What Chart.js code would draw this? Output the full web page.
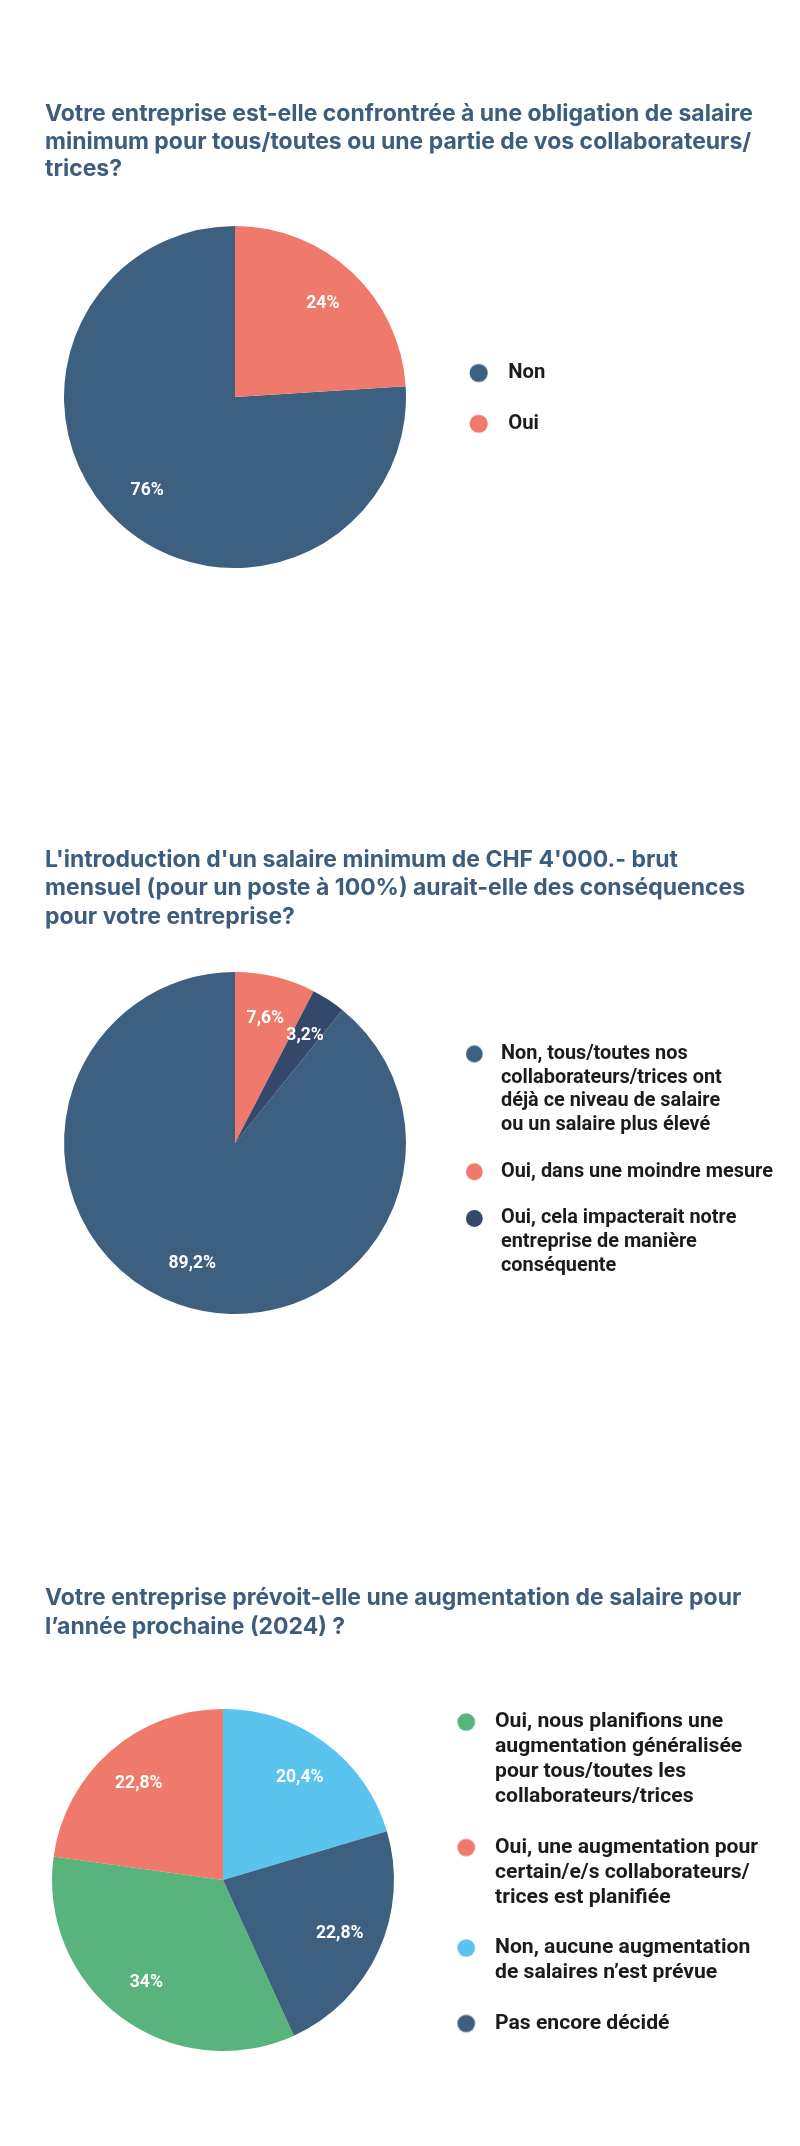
<!DOCTYPE html>
<html>
<head>
<meta charset="utf-8">
<script src="https://cdn.jsdelivr.net/npm/chart.js@4.4.1/dist/chart.umd.min.js"></script>
<style>
  html, body { margin: 0; padding: 0; background: #ffffff; }
  body { width: 800px; height: 2146px; position: relative; overflow: hidden; }
  canvas { position: absolute; left: 0; }
</style>
</head>
<body>
<canvas id="c1" width="800" height="640" style="top:0px"></canvas>
<canvas id="c2" width="800" height="740" style="top:640px"></canvas>
<canvas id="c3" width="800" height="766" style="top:1380px"></canvas>
<script>
// ---------- DATA ----------
const q1Title = ['Votre entreprise est-elle confrontrée à une obligation de salaire',
                 'minimum pour tous/toutes ou une partie de vos collaborateurs/',
                 'trices?'];
const q1Labels = [['Non'], ['Oui']];
const q1Values = [76, 24];

const q2Title = ["L'introduction d'un salaire minimum de CHF 4'000.- brut",
                 'mensuel (pour un poste à 100%) aurait-elle des conséquences',
                 'pour votre entreprise?'];
const q2Labels = [['Non, tous/toutes nos', 'collaborateurs/trices ont', 'déjà ce niveau de salaire', 'ou un salaire plus élevé'],
                  ['Oui, dans une moindre mesure'],
                  ['Oui, cela impacterait notre', 'entreprise de manière', 'conséquente']];
const q2Values = [89.2, 7.6, 3.2];

const q3Title = ['Votre entreprise prévoit-elle une augmentation de salaire pour',
                 'l’année prochaine (2024) ?'];
const q3Labels = [['Oui, nous planifions une', 'augmentation généralisée', 'pour tous/toutes les', 'collaborateurs/trices'],
                  ['Oui, une augmentation pour', 'certain/e/s collaborateurs/', 'trices est planifiée'],
                  ['Non, aucune augmentation', 'de salaires n’est prévue'],
                  ['Pas encore décidé']];
const q3Values = [34, 22.8, 20.4, 22.8];

// ---------- STYLE ----------
const BLUE = '#3e6080', CORAL = '#ef7a6b', NAVY = '#34486a', GREEN = '#58b47c', SKY = '#5ac4ef';
const q1Colors = [BLUE, CORAL];
const q2Colors = [BLUE, CORAL, NAVY];
const q3Colors = [GREEN, CORAL, SKY, BLUE];
const TITLE_COLOR = '#3d5d7e';
const TEXT_COLOR = '#1b1b1b';

function fmt(v) { return String(v).replace('.', ',') + '%'; }

// font sizes chosen so that text widths match the original's text widths
const mctx = document.createElement('canvas').getContext('2d');
function fitSize(family, samples) {
  let s = 0;
  samples.forEach(([t, w]) => {
    mctx.font = 'bold 100px ' + family;
    s += w / mctx.measureText(t).width * 100;
  });
  return s / samples.length;
}
const TITLE_FS = fitSize('Inter', [[q1Title[0], 708.3], [q2Title[1], 699], [q3Title[0], 697.7]]);
const LEG1_FS = fitSize('Roboto', [[q1Labels[0][0], 36.7], [q1Labels[1][0], 31]]);
const LEG2_FS = fitSize('Roboto', [[q2Labels[1][0], 270.7], [q2Labels[0][1], 222.3], [q2Labels[2][0], 235]]);
const LEG3_FS = fitSize('Roboto', [[q3Labels[0][1], 250], [q3Labels[1][0], 263.3], [q3Labels[3][0], 172.7]]);
const LABEL_FS = fitSize('Roboto', [['7,6%', 37.7], ['24%', 33]]);

function makeDot(color, w, cx, r) {
  const c = document.createElement('canvas');
  c.width = Math.max(1, Math.round(w));
  c.height = Math.ceil(2 * r + 2);
  const g = c.getContext('2d');
  g.fillStyle = color;
  g.beginPath();
  g.arc(cx, c.height / 2, r, 0, Math.PI * 2);
  g.fill();
  return c;
}

const fixedLegendWidth = {
  id: 'fixedLegendWidth',
  beforeLayout(chart, args, opts) {
    const lg = chart.legend;
    if (lg && !lg.__fixedW) {
      const fit = lg.fit;
      lg.fit = function () { fit.call(this); this.width = opts.width; };
      lg.__fixedW = true;
    }
  }
};

const pieLabels = {
  id: 'pieLabels',
  afterDatasetsDraw(chart, args, opts) {
    const meta = chart.getDatasetMeta(0);
    const data = chart.data.datasets[0].data;
    const ctx = chart.ctx;
    ctx.save();
    ctx.font = 'bold ' + opts.size + 'px Roboto';
    ctx.fillStyle = '#ffffff';
    ctx.textAlign = 'center';
    ctx.textBaseline = 'middle';
    meta.data.forEach((arc, i) => {
      const p = arc.getProps(['x', 'y', 'startAngle', 'endAngle', 'outerRadius'], true);
      const mid = (p.startAngle + p.endAngle) / 2;
      const r = p.outerRadius * opts.ratio;
      ctx.fillText(fmt(data[i]), p.x + Math.cos(mid) * r, p.y + Math.sin(mid) * r);
    });
    ctx.restore();
  }
};

// L: layout targets (canvas px)
function makeChart(id, title, labels, values, colors, beforeTop, L) {
  const total = values.reduce((a, b) => a + b, 0);
  const rotation = 360 * beforeTop / total;
  const areaRight = 2 * L.cx - 45;
  const legendW = 800 - areaRight;
  const B = L.textX - areaRight - L.p - L.fs / 2;
  const dotCx = L.markerX - areaRight - L.p;
  const T = Math.max(0, L.firstMid - L.areaTop - 1 - L.p - L.fs / 2);
  const titleTop = L.titleMid - L.titleLH / 2;
  const titleBottom = L.areaTop - titleTop - title.length * L.titleLH;
  const areaBottom = 2 * L.cy - L.areaTop;
  const canvas = document.getElementById(id);
  new Chart(canvas, {
    type: 'pie',
    data: {
      labels: labels,
      datasets: [{
        data: values,
        backgroundColor: colors,
        borderWidth: 0,
        hoverOffset: 0,
        radius: 171
      }]
    },
    plugins: [fixedLegendWidth, pieLabels],
    options: {
      responsive: false,
      animation: false,
      rotation: rotation,
      events: [],
      layout: { padding: { left: 45, right: 0, top: 0, bottom: canvas.height - areaBottom } },
      plugins: {
        tooltip: { enabled: false },
        title: {
          display: true,
          text: title,
          align: 'start',
          color: TITLE_COLOR,
          font: { family: 'Inter', weight: 'bold', size: TITLE_FS, lineHeight: L.titleLH + 'px' },
          padding: { top: titleTop, bottom: titleBottom }
        },
        legend: {
          display: true,
          position: 'right',
          align: 'start',
          fullSize: false,
          title: { display: true, text: '', padding: { top: T, bottom: 0 }, font: { size: 1, lineHeight: 1 } },
          labels: {
            usePointStyle: true,
            pointStyleWidth: B,
            padding: L.p,
            color: TEXT_COLOR,
            font: { family: 'Roboto', weight: 'bold', size: L.fs, lineHeight: L.lh + 'px' },
            generateLabels(chart) {
              const items = Chart.overrides.doughnut.plugins.legend.labels.generateLabels(chart);
              return items.map((it, i) => Object.assign(it, {
                pointStyle: makeDot(colors[i], B, dotCx, L.r)
              }));
            }
          }
        },
        fixedLegendWidth: { width: legendW },
        pieLabels: { size: LABEL_FS, ratio: 0.75 }
      }
    }
  });
}

// chart 1 (canvas top 0)
makeChart('c1', q1Title, q1Labels, q1Values, q1Colors, q1Values[1], {
  cx: 235, cy: 397, areaTop: 226, titleMid: 114.5, titleLH: 27.5,
  fs: LEG1_FS, lh: 24, p: 26.8, markerX: 478.5, textX: 508.3, firstMid: 373, r: 9.1
});
// chart 2 (canvas top 640)
makeChart('c2', q2Title, q2Labels, q2Values, q2Colors, q2Values[1] + q2Values[2], {
  cx: 235, cy: 503, areaTop: 332, titleMid: 220, titleLH: 28.5,
  fs: LEG2_FS, lh: 23.7, p: 23, markerX: 474.3, textX: 501, firstMid: 414, r: 8.4
});
// chart 3 (canvas top 1380)
makeChart('c3', q3Title, q3Labels, q3Values, q3Colors, q3Values[2] + q3Values[3], {
  cx: 223, cy: 500, areaTop: 300, titleMid: 218.5, titleLH: 28.3,
  fs: LEG3_FS, lh: 25, p: 25.5, markerX: 466.2, textX: 495, firstMid: 342, r: 8.85
});
</script>
</body>
</html>
